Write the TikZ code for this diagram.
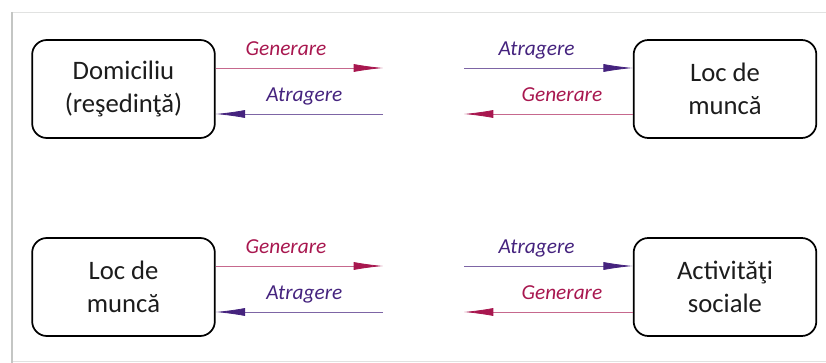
\documentclass[tikz,border=0pt]{standalone}
\usepackage{fontspec}
\setmainfont{Carlito}
\usetikzlibrary{arrows.meta, positioning}
\definecolor{cGen}{HTML}{A8174F}
\definecolor{cAtr}{HTML}{45237E}
\definecolor{framegray}{HTML}{C4C6C4}
\definecolor{boxtext}{HTML}{1C1C1C}

\begin{document}
\begin{tikzpicture}[x=0.75pt, y=-0.75pt, font=\fontsize{20}{25}\selectfont,
  place/.style={draw, line width=1.3pt, rounded corners=11pt, minimum width=137pt,
    minimum height=73.5pt, align=center, text=boxtext},
  genflow/.style={draw=cGen!65, line width=0.6pt, -{Latex[length=22pt,width=6pt,color=cGen]}},
  atrflow/.style={draw=cAtr!70, line width=0.6pt, -{Latex[length=22pt,width=6pt,color=cAtr]}},
  flowlbl/.style={font=\fontsize{16}{18}\selectfont\itshape, anchor=base, yshift=9pt}]
  \useasboundingbox (0,0) rectangle (826,363);
  % frame
  \draw[framegray!50, line width=0.5pt] (12,12) -- (826,12);
  \draw[framegray!50, line width=0.5pt] (12,361) -- (826,361);
  \draw[framegray, line width=1.8pt] (12,12) -- (12,363);

  % places
  \node[place] (dom) at (123.5,89) {Domiciliu\\(reşedinţă)};
  \node[place] (loc1) at (725,89) {Loc de\\muncă};
  \node[place] (loc2) at (123.5,287) {Loc de\\muncă};
  \node[place] (soc) at (725,287) {Activităţi\\sociale};

  % free ends of the flows
  \foreach \row/\y in {a/89, b/287}{
    \coordinate (lt\row) at (383,\y-21);
    \coordinate (lb\row) at (383,\y+25);
    \coordinate (rt\row) at (464,\y-21);
    \coordinate (rb\row) at (464,\y+25);
  }

  % flows
  \foreach \left/\right/\row in {dom/loc1/a, loc2/soc/b}{
    \draw[genflow] ([yshift=15.75pt]\left.east) -- (lt\row)
      node[flowlbl, pos=.42, text=cGen] {Generare};
    \draw[atrflow] (lb\row) -- ([yshift=-18.75pt]\left.east)
      node[flowlbl, pos=.47, text=cAtr] {Atragere};
    \draw[atrflow] (rt\row) -- ([yshift=15.75pt]\right.west)
      node[flowlbl, pos=.43, text=cAtr] {Atragere};
    \draw[genflow] ([yshift=-18.75pt]\right.west) -- (rb\row)
      node[flowlbl, pos=.42, text=cGen] {Generare};
  }
\end{tikzpicture}
\end{document}
